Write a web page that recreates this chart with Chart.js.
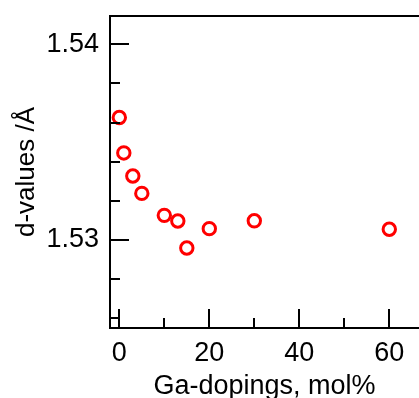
<!DOCTYPE html>
<html>
<head>
<meta charset="utf-8">
<script src="https://cdn.jsdelivr.net/npm/chart.js@4"></script>
<style>
  html, body { margin: 0; padding: 0; background: #fff; overflow: hidden; }
  #wrap { width: 419px; height: 404px; }
</style>
</head>
<body>
<div id="wrap"><canvas id="graficoD" width="419" height="404"></canvas></div>
<script>
// Ga-doping (mol%) vs d-value (Å)
const dopings = [0, 1, 3, 5, 10, 13, 15, 20, 30, 60];
const dValues = [1.53626, 1.53445, 1.53327, 1.53238, 1.53126, 1.53097, 1.52959, 1.53058, 1.53098, 1.53055];

const xMajorTicks = [0, 20, 40, 60];
const xMinorTicks = [10, 30, 50];
const yMajorTicks = [1.53, 1.54];
const yMinorTicks = [1.526, 1.528, 1.532, 1.534, 1.536, 1.538];

const fontFamily = "'Liberation Sans', Arial, sans-serif";

// ticks pointing inward + top frame line
const innerTicks = {
  id: 'innerTicks',
  afterDraw(chart) {
    const { ctx, chartArea, scales: { x, y } } = chart;
    ctx.save();
    ctx.strokeStyle = '#000';
    ctx.lineWidth = 2;

    ctx.beginPath();
    ctx.moveTo(chartArea.left - 1, chartArea.top);
    ctx.lineTo(chartArea.right, chartArea.top);
    ctx.stroke();

    const drawX = (vals, len) => {
      vals.forEach(v => {
        const px = Math.round(x.getPixelForValue(v));
        ctx.beginPath();
        ctx.moveTo(px, chartArea.bottom);
        ctx.lineTo(px, chartArea.bottom - len);
        ctx.stroke();
      });
    };
    const drawY = (vals, len) => {
      vals.forEach(v => {
        const py = Math.round(y.getPixelForValue(v));
        ctx.beginPath();
        ctx.moveTo(chartArea.left, py);
        ctx.lineTo(chartArea.left + len, py);
        ctx.stroke();
      });
    };
    drawX(xMajorTicks, 19);
    drawX(xMinorTicks, 10);
    drawY(yMajorTicks, 19);
    drawY(yMinorTicks, 10);
    ctx.restore();
  }
};

const noPad = s => { s.paddingLeft = 0; s.paddingRight = 0; s.paddingTop = 0; s.paddingBottom = 0; };

document.addEventListener("DOMContentLoaded", function () {
  const ctx = document.getElementById('graficoD').getContext('2d');

  const config = {
    type: 'scatter',
    data: {
      datasets: [{
        data: dopings.map((d, i) => ({ x: d, y: dValues[i] })),
        borderColor: '#ff0000',
        backgroundColor: 'rgba(0,0,0,0)',
        pointRadius: 6.2,
        pointHoverRadius: 6.2,
        borderWidth: 3,
        showLine: false
      }]
    },
    options: {
      responsive: false,
      animation: false,
      devicePixelRatio: 1,
      layout: {
        autoPadding: false,
        padding: { top: 16, right: 0, left: 0, bottom: 0 }
      },
      plugins: {
        legend: { display: false },
        tooltip: { enabled: false }
      },
      scales: {
        x: {
          type: 'linear',
          min: -2.07,
          max: 66.6,
          afterBuildTicks: s => { s.ticks = xMajorTicks.map(v => ({ value: v })); },
          afterFit: s => { s.height = 76; noPad(s); },
          grid: { display: false, drawTicks: false },
          border: { display: true, color: '#000', width: 2 },
          ticks: {
            padding: 9,
            color: '#000',
            maxRotation: 0,
            font: { family: fontFamily, size: 27 },
            callback: v => String(v)
          },
          title: {
            display: true,
            text: 'Ga-dopings, mol%',
            color: '#000',
            font: { family: fontFamily, size: 27 },
            padding: { top: 0, bottom: 1 }
          }
        },
        y: {
          type: 'linear',
          min: 1.5255,
          max: 1.54145,
          afterBuildTicks: s => { s.ticks = yMajorTicks.map(v => ({ value: v })); },
          afterFit: s => { s.width = 110; noPad(s); },
          grid: { display: false, drawTicks: false },
          border: { display: true, color: '#000', width: 2 },
          ticks: {
            padding: 11,
            color: '#000',
            font: { family: fontFamily, size: 27 },
            callback: v => v.toFixed(2)
          },
          title: {
            display: true,
            text: 'd-values /Å',
            color: '#000',
            font: { family: fontFamily, size: 26 },
            padding: { top: 11, bottom: 0 }
          }
        }
      }
    },
    plugins: [innerTicks]
  };

  new Chart(ctx, config);
});
</script>
</body>
</html>
